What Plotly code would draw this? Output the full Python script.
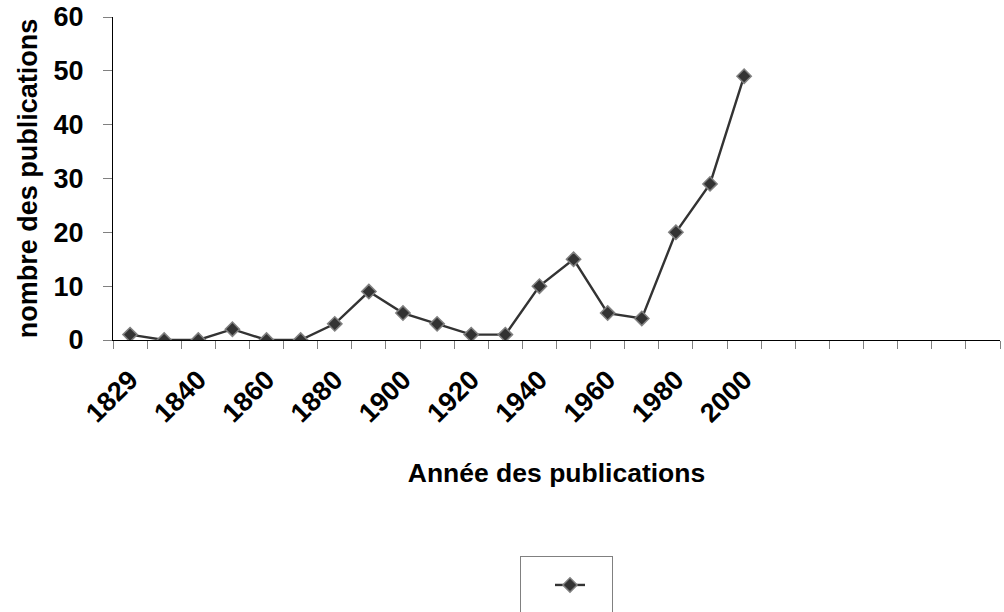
import plotly.graph_objects as go

categories = ["1829", "1830", "1840", "1850", "1860", "1870", "1880", "1890", "1900",
              "1910", "1920", "1930", "1940", "1950", "1960", "1970", "1980", "1990", "2000"]
publications = [1, 0, 0, 2, 0, 0, 3, 9, 5, 3, 1, 1, 10, 15, 5, 4, 20, 29, 49]
n_slots = 26  # category slots on the axis (trailing ones empty)

tick_idx = list(range(0, len(categories), 2))
tick_labels = [categories[i] for i in tick_idx]

FONT = "Liberation Sans, Arial, sans-serif"

fig = go.Figure()
fig.add_trace(go.Scatter(
    x=list(range(len(categories))), y=publications,
    mode="lines+markers",
    name="\u00a0",
    line=dict(color="#333333", width=2.4),
    marker=dict(symbol="diamond", size=11, color="#333333",
                line=dict(color="#808080", width=1.5)),
    showlegend=True,
))

fig.update_layout(
    width=1004, height=612,
    margin=dict(l=113, r=4, t=17, b=272, autoexpand=False),
    paper_bgcolor="white", plot_bgcolor="white",
    font=dict(family=FONT, color="black"),
    showlegend=True,
    legend=dict(
        x=(520 - 113) / 887, y=(340 - 556) / 323, xanchor="left", yanchor="top",
        orientation="h",
        bordercolor="#808080", borderwidth=1,
        font=dict(size=33, family=FONT),
        indentation=29,
        entrywidth=17, entrywidthmode="pixels",
    ),
    xaxis=dict(
        range=[-0.5, n_slots - 0.5], automargin=False,
        tickmode="array", tickvals=tick_idx, ticktext=tick_labels,
        tickangle=-45, ticks="", ticklabelstandoff=12,
        tickfont=dict(size=27, family=FONT, weight="bold"),
        showline=True, linecolor="black", linewidth=1.3,
        showgrid=False, zeroline=False,
        minor=dict(tickmode="array", tickvals=[i - 0.5 for i in range(n_slots + 1)],
                   ticks="outside", ticklen=8, tickcolor="#808080", tickwidth=1.3,
                   showgrid=False),
        title=dict(text="Année des publications",
                   font=dict(size=26.5, family=FONT, weight="bold"), standoff=36),
    ),
    yaxis=dict(
        range=[0, 60], dtick=10, tick0=0, automargin=False,
        ticks="outside", ticklen=9, tickcolor="#808080", tickwidth=1.3,
        ticklabelstandoff=14, ticklabeloverflow="allow",
        tickfont=dict(size=27, family=FONT, weight="bold"),
        showline=True, linecolor="black", linewidth=1.3,
        showgrid=False, zeroline=False,
        title=dict(text="nombre des publications",
                   font=dict(size=27, family=FONT, weight="bold"), standoff=7),
    ),
)

# remove the browser's default 8px body margin so the figure fills the window
fig.write_html("out.html", config={"displayModeBar": False},
               post_script="document.body.style.margin='0';")
